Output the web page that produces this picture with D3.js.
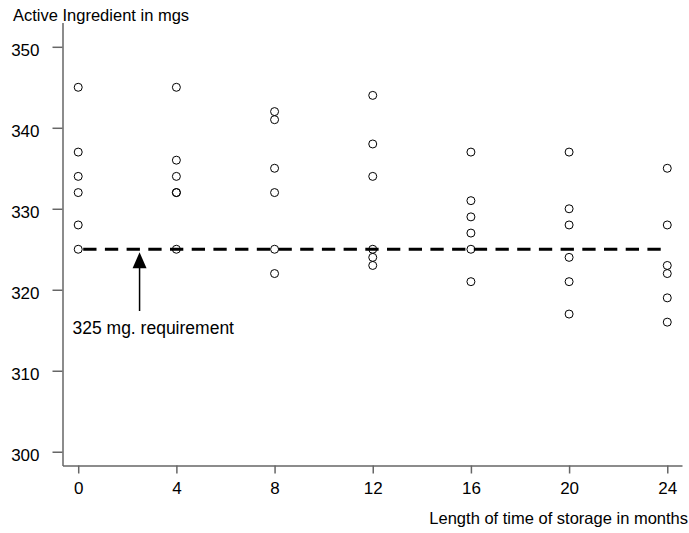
<!DOCTYPE html>
<html>
<head>
<meta charset="utf-8">
<script src="https://cdn.jsdelivr.net/npm/d3@7"></script>
<style>
  html, body { margin: 0; padding: 0; background: #fff; }
  text { font-family: "Liberation Sans", Arial, sans-serif; }
</style>
</head>
<body>
<svg id="chart" width="689" height="533"></svg>
<script>
const months = [0, 4, 8, 12, 16, 20, 24];
const values = [
  [345, 337, 334, 332, 328, 325],
  [345, 336, 334, 332, 332, 325],
  [342, 341, 335, 332, 325, 322],
  [344, 338, 334, 325, 324, 323],
  [337, 331, 329, 327, 325, 321],
  [337, 330, 328, 324, 321, 317],
  [335, 328, 323, 322, 319, 316]
];
const yTicks = [300, 310, 320, 330, 340, 350];
const xTicks = [0, 4, 8, 12, 16, 20, 24];
const requirement = 325;
const requirementLabel = "325 mg. requirement";
const arrowMonth = 2.5;
const yTitle = "Active Ingredient in mgs";
const xTitle = "Length of time of storage in months";

const svg = d3.select("#chart");
const x = d3.scaleLinear().domain([-0.64, 24.6]).range([62.5, 682]);
const y = d3.scaleLinear().domain([298.3, 353]).range([465.5, 22.5]);
const axisColor = "#666";
const font = "Liberation Sans, Arial, sans-serif";

// axes
const yAxis = svg.append("g").attr("transform", "translate(62.5,0)")
  .call(d3.axisLeft(y).tickValues(yTicks).tickSize(10).tickPadding(13).tickSizeOuter(0));
const xAxis = svg.append("g").attr("transform", "translate(0,465.5)")
  .call(d3.axisBottom(x).tickValues(xTicks).tickSize(8).tickPadding(8).tickSizeOuter(0));
[yAxis, xAxis].forEach(g => {
  g.select(".domain").attr("stroke", axisColor).attr("stroke-width", 1.5);
  g.selectAll(".tick line").attr("stroke", axisColor).attr("stroke-width", 1.5);
  g.selectAll(".tick text").attr("fill", "#000")
    .style("font-size", "17px").style("font-family", font);
});
yAxis.selectAll(".tick text").attr("dy", "0.5em");

// requirement line
svg.append("line")
  .attr("x1", x(0) + 5).attr("x2", x(24))
  .attr("y1", y(requirement)).attr("y2", y(requirement))
  .attr("stroke", "#000").attr("stroke-width", 3)
  .attr("stroke-dasharray", "13.3,8.4");

// points
const pts = [];
months.forEach((m, i) => values[i].forEach(v => pts.push({m, v})));
svg.append("g").selectAll("circle").data(pts).join("circle")
  .attr("cx", d => x(d.m)).attr("cy", d => y(d.v)).attr("r", 4)
  .attr("fill", "none").attr("stroke", "#000").attr("stroke-width", 1);

// arrow
const ax = x(arrowMonth);
const tipY = y(requirement) + 3;
svg.append("line").attr("x1", ax).attr("x2", ax)
  .attr("y1", tipY + 14).attr("y2", 311)
  .attr("stroke", "#000").attr("stroke-width", 1.5);
svg.append("path")
  .attr("d", `M${ax},${tipY} L${ax - 7},${tipY + 16} L${ax + 7},${tipY + 16} Z`)
  .attr("fill", "#000");
svg.append("text").attr("x", 72.5).attr("y", 334)
  .style("font-size", "17.5px").text(requirementLabel);

// titles
svg.append("text").attr("x", 13).attr("y", 21)
  .style("font-size", "16.5px").text(yTitle);
svg.append("text").attr("x", 688).attr("y", 524).attr("text-anchor", "end")
  .style("font-size", "16.5px").text(xTitle);
</script>
</body>
</html>
